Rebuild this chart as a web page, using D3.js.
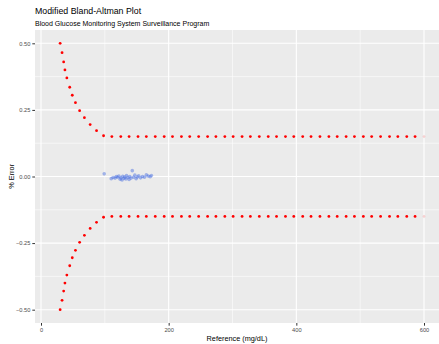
<!DOCTYPE html>
<html>
<head>
<meta charset="utf-8">
<script src="https://cdn.jsdelivr.net/npm/d3@7"></script>
<style>
  body { margin: 0; background: #fff; }
  text { font-family: "Liberation Sans", Arial, sans-serif; }
</style>
</head>
<body>
<div id="chart"></div>
<script>
// error limits (reference mg/dL, upper/lower % error)
const limitRef = [30, 33, 35.5, 37.5, 40.5, 45, 49, 54, 60.5, 68, 77, 87, 98,
  111, 125, 138, 152, 165, 179, 193, 206, 220, 233, 247, 261, 274, 288, 301, 315,
  328, 342, 356, 369, 383, 396, 410, 423, 437, 451, 464, 478, 491, 505, 518, 532,
  546, 559, 573, 586, 600];
const limitUpper = [0.50, 0.465, 0.43, 0.40, 0.37, 0.335, 0.305, 0.277, 0.247, 0.221, 0.195, 0.172, 0.153,
  0.15, 0.15, 0.15, 0.15, 0.15, 0.15, 0.15, 0.15, 0.15, 0.15, 0.15, 0.15, 0.15, 0.15, 0.15, 0.15,
  0.15, 0.15, 0.15, 0.15, 0.15, 0.15, 0.15, 0.15, 0.15, 0.15, 0.15, 0.15, 0.15, 0.15, 0.15, 0.15,
  0.15, 0.15, 0.15, 0.15, 0.15];
const limitLower = [-0.50, -0.465, -0.43, -0.40, -0.37, -0.335, -0.305, -0.277, -0.247, -0.221, -0.195, -0.172, -0.153,
  -0.15, -0.15, -0.15, -0.15, -0.15, -0.15, -0.15, -0.15, -0.15, -0.15, -0.15, -0.15, -0.15, -0.15, -0.15, -0.15,
  -0.15, -0.15, -0.15, -0.15, -0.15, -0.15, -0.15, -0.15, -0.15, -0.15, -0.15, -0.15, -0.15, -0.15, -0.15, -0.15,
  -0.15, -0.15, -0.15, -0.15, -0.15];

// measured samples
const sampleRef = [99, 110, 113, 116, 118, 120, 122, 124, 125, 127, 128, 130, 131, 133, 134, 136,
  138, 139, 141, 143, 145, 147, 149, 151, 153, 156, 159, 162, 165, 168, 171, 173];
const sampleErr = [0.010, -0.008, -0.004, -0.006, 0.000, -0.003, 0.002, -0.010, -0.005, -0.013, 0.001,
  -0.007, -0.002, -0.009, 0.004, -0.004, -0.011, 0.000, -0.006, 0.022, -0.003, 0.005, -0.008, -0.002,
  0.003, -0.005, 0.000, -0.003, 0.006, 0.002, -0.001, 0.004];

const xTicks = [0, 200, 400, 600];
const xMinor = [100, 300, 500];
const yTicks = [-0.50, -0.25, 0.00, 0.25, 0.50];
const yMinor = [-0.375, -0.125, 0.125, 0.375];

const width = 439, height = 344;
const panel = { left: 35, top: 30, right: 445, bottom: 323 };

const svg = d3.select("#chart").append("svg")
  .attr("width", width)
  .attr("height", height);

const x = d3.scaleLinear().domain([0, 600]).range([41, 424]);
const y = d3.scaleLinear().domain([-0.55, 0.55]).range([panel.bottom, panel.top]);

// panel background
svg.append("rect")
  .attr("x", panel.left).attr("y", panel.top)
  .attr("width", panel.right - panel.left)
  .attr("height", panel.bottom - panel.top)
  .attr("fill", "#ebebeb");

// grid
const grid = svg.append("g");
grid.selectAll(".xminor").data(xMinor).enter().append("line")
  .attr("x1", d => x(d)).attr("x2", d => x(d))
  .attr("y1", panel.top).attr("y2", panel.bottom)
  .attr("stroke", "#fff").attr("stroke-width", 0.55);
grid.selectAll(".yminor").data(yMinor).enter().append("line")
  .attr("x1", panel.left).attr("x2", panel.right)
  .attr("y1", d => y(d)).attr("y2", d => y(d))
  .attr("stroke", "#fff").attr("stroke-width", 0.55);
grid.selectAll(".xmajor").data(xTicks).enter().append("line")
  .attr("x1", d => x(d)).attr("x2", d => x(d))
  .attr("y1", panel.top).attr("y2", panel.bottom)
  .attr("stroke", "#fff").attr("stroke-width", 1.1);
grid.selectAll(".ymajor").data(yTicks).enter().append("line")
  .attr("x1", panel.left).attr("x2", panel.right)
  .attr("y1", d => y(d)).attr("y2", d => y(d))
  .attr("stroke", "#fff").attr("stroke-width", 1.1);

// axes
const xAxis = svg.append("g")
  .attr("transform", "translate(0," + panel.bottom + ")")
  .call(d3.axisBottom(x).tickValues(xTicks).tickSize(2.7).tickPadding(2).tickFormat(d3.format("d")));
const yAxis = svg.append("g")
  .attr("transform", "translate(" + panel.left + ",0)")
  .call(d3.axisLeft(y).tickValues(yTicks).tickSize(2.7).tickPadding(2).tickFormat(d3.format(".2f")));
[xAxis, yAxis].forEach(a => {
  a.select(".domain").remove();
  a.selectAll(".tick line").attr("stroke", "#333").attr("stroke-width", 1);
  a.selectAll(".tick text").attr("fill", "#4d4d4d").style("font-size", "5.7px")
    .style("font-family", "'Liberation Sans', Arial, sans-serif");
});

// limit points (the one at the far end shows only faintly in the original)
const limits = limitRef.map((r, i) => ({ r: r, u: limitUpper[i], l: limitLower[i] }));
const fade = d => d.r >= 600 ? 0.15 : 1;
const pts = svg.append("g");
pts.selectAll(".up").data(limits).enter().append("circle")
  .attr("cx", d => x(d.r)).attr("cy", d => y(d.u))
  .attr("r", 1.4).attr("fill", "red").attr("fill-opacity", fade);
pts.selectAll(".lo").data(limits).enter().append("circle")
  .attr("cx", d => x(d.r)).attr("cy", d => y(d.l))
  .attr("r", 1.4).attr("fill", "red").attr("fill-opacity", fade);

// samples
const samples = sampleRef.map((r, i) => ({ r: r, e: sampleErr[i] }));
pts.selectAll(".s").data(samples).enter().append("circle")
  .attr("cx", d => x(d.r)).attr("cy", d => y(d.e))
  .attr("r", 1.8).attr("fill", "royalblue").attr("fill-opacity", 0.45);

// titles
svg.append("text").attr("x", 35).attr("y", 13.5)
  .style("font-size", "8.8px").attr("fill", "#000")
  .text("Modified Bland-Altman Plot");
svg.append("text").attr("x", 35).attr("y", 25.5)
  .style("font-size", "7px").attr("fill", "#000")
  .text("Blood Glucose Monitoring System Surveillance Program");
svg.append("text").attr("x", (panel.left + 439) / 2).attr("y", 341)
  .attr("text-anchor", "middle").style("font-size", "7.3px").attr("fill", "#000")
  .text("Reference (mg/dL)");
svg.append("text")
  .attr("transform", "translate(13.5," + y(0) + ") rotate(-90)")
  .attr("text-anchor", "middle").style("font-size", "7.3px").attr("fill", "#000")
  .text("% Error");
</script>
</body>
</html>
